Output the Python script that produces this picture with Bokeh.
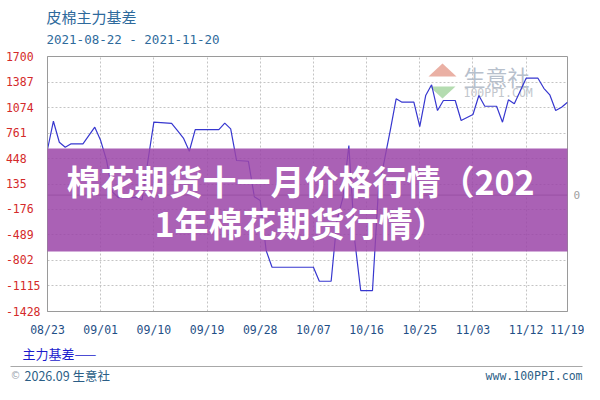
import datetime as dt
from bokeh.plotting import figure
from bokeh.layouts import column
from bokeh.models import (Range1d, FixedTicker, DatetimeTickFormatter, LinearAxis,
                          Span, Label, BoxAnnotation, PolyAnnotation, ColumnDataSource)
from bokeh.embed import file_html
from bokeh.resources import INLINE

# ---------------- data ----------------
dates = ["2021-08-23", "2021-08-24", "2021-08-25", "2021-08-26", "2021-08-27", "2021-08-29",
         "2021-08-31", "2021-09-01", "2021-09-02", "2021-09-03", "2021-09-04", "2021-09-07",
         "2021-09-08", "2021-09-09", "2021-09-10", "2021-09-13", "2021-09-14", "2021-09-15",
         "2021-09-16", "2021-09-17", "2021-09-21", "2021-09-22", "2021-09-23", "2021-09-24",
         "2021-09-26", "2021-09-27", "2021-09-28", "2021-09-29", "2021-09-30", "2021-10-07",
         "2021-10-08", "2021-10-10", "2021-10-11", "2021-10-12", "2021-10-13", "2021-10-14",
         "2021-10-15", "2021-10-17", "2021-10-18", "2021-10-19", "2021-10-20", "2021-10-21",
         "2021-10-22", "2021-10-24", "2021-10-25", "2021-10-26", "2021-10-27", "2021-10-28",
         "2021-10-29", "2021-10-31", "2021-11-01", "2021-11-03", "2021-11-04", "2021-11-05",
         "2021-11-07", "2021-11-08", "2021-11-09", "2021-11-10", "2021-11-12", "2021-11-14",
         "2021-11-15", "2021-11-16", "2021-11-17", "2021-11-18", "2021-11-19"]
basis = [560, 906, 648, 587, 629, 629,
         833, 669, 424, 36, -30, -30,
         -60, 424, 894, 880, 790, 700,
         538, 804, 804, 882, 813, 424,
         415, -20, -67, -680, -885, -885,
         -1057, -1057, -300, -30, 608, -560,
         -1171, -1171, 56, 424, 792, 1181,
         1140, 1140, 841, 1221, 1353, 1037,
         1160, 1160, 915, 988, 1221, 1090,
         1090, 894, 1169, 1120, 1434, 1434,
         1310, 1230, 1037, 1078, 1139]
y_ticks = [1700, 1387, 1074, 761, 448, 135, -176, -489, -802, -1115, -1428]
x_tick_dates = ["2021-08-23", "2021-09-01", "2021-09-10", "2021-09-19", "2021-09-28",
                "2021-10-07", "2021-10-16", "2021-10-25", "2021-11-03", "2021-11-12",
                "2021-11-19"]
x_start, x_end = "2021-08-23", "2021-11-19"
title_text = "皮棉主力基差"
range_text = "2021-08-22 - 2021-11-20"
legend_text = "主力基差——"
footer_mark = "©"
footer_left = "2026.09 生意社"
footer_right = "www.100PPI.com"
watermark_cn = "生意社"
watermark_en = "100PPI.COM"
banner_lines = ["棉花期货十一月价格行情（202", "1年棉花期货行情）"]

# ---------------- layout (pixels) ----------------
W = 584
HEAD_H = 47
FL, FR, FT, FB = 47, 17, 9, 30
FRAME_H = 255
MAIN_H = FT + FRAME_H + FB          # 294
FOOT_H = 384 - HEAD_H - MAIN_H      # 43
MAIN_TOP = HEAD_H
FOOT_TOP = HEAD_H + MAIN_H
FRAME_BOTTOM = MAIN_TOP + FT + FRAME_H

EPOCH = dt.datetime(1970, 1, 1)


def ms(s):
    return (dt.datetime.strptime(s, "%Y-%m-%d") - EPOCH).total_seconds() * 1000.0


def no_frame_align(f):
    if "frame_align" in f.properties():
        f.frame_align = False


def blank_fig(h):
    f = figure(width=W, height=h, output_backend="svg", toolbar_location=None, title=None,
               x_axis_location=None, y_axis_location=None, min_border=0,
               x_range=Range1d(0, 1), y_range=Range1d(0, 1))
    f.outline_line_color = None
    f.xgrid.visible = False
    f.ygrid.visible = False
    f.background_fill_color = "white"
    f.border_fill_color = "white"
    no_frame_align(f)
    return f


# ---------------- header ----------------
head = blank_fig(HEAD_H)
head.add_layout(Label(x=46, y=HEAD_H - 16, x_units="screen", y_units="screen", text=title_text,
                      text_font="Noto Sans CJK SC", text_font_size="15px", text_color="#2e6a9c",
                      text_baseline="middle"))
head.add_layout(Label(x=46, y=HEAD_H - 39, x_units="screen", y_units="screen", text=range_text,
                      text_font="DejaVu Sans Mono", text_font_size="12.5px", text_color="#2e6a9c",
                      text_baseline="middle"))

# ---------------- main chart ----------------
src = ColumnDataSource(dict(x=[dt.datetime.strptime(d, "%Y-%m-%d") for d in dates], y=basis))

p = figure(width=W, height=MAIN_H, x_axis_type="datetime",
           x_range=Range1d(ms(x_start), ms(x_end)),
           y_range=Range1d(min(y_ticks), max(y_ticks)),
           output_backend="svg", toolbar_location=None, title=None,
           min_border_left=FL, min_border_right=FR, min_border_top=FT, min_border_bottom=FB)
no_frame_align(p)
p.background_fill_color = "white"
p.border_fill_color = "white"
p.outline_line_color = "#9a9a9a"

for g in (p.xgrid[0], p.ygrid[0]):
    g.grid_line_color = "#c4c4c4"
    g.grid_line_dash = "2 2"

xa = p.xaxis[0]
xa.ticker = FixedTicker(ticks=[ms(d) for d in x_tick_dates])
fmt = "%m/%d"
xa.formatter = DatetimeTickFormatter(days=fmt, months=fmt, years=fmt, hours=fmt,
                                     hourmin=fmt, minutes=fmt, minsec=fmt, seconds=fmt,
                                     milliseconds=fmt, microseconds=fmt)
xa.major_label_text_font = "DejaVu Sans Mono"
xa.major_label_text_font_size = "11.5px"
xa.major_label_text_color = "#1f4f86"
xa.major_tick_out = 0
xa.major_tick_in = 0
xa.minor_tick_out = 0
xa.minor_tick_in = 0
xa.axis_line_color = "#9a9a9a"
xa.major_label_standoff = 11

ya = p.yaxis[0]
ya.ticker = FixedTicker(ticks=y_ticks)
ya.major_label_overrides = {t: str(t) + "\u00a0" * (5 - len(str(t))) for t in y_ticks}
ya.major_label_text_font = "DejaVu Sans Mono"
ya.major_label_text_font_size = "11.5px"
ya.major_label_text_color = "#d42a2a"
ya.major_tick_out = 0
ya.major_tick_in = 0
ya.minor_tick_out = 0
ya.minor_tick_in = 0
ya.axis_line_color = "#9a9a9a"
ya.major_label_standoff = 7

ra = LinearAxis(ticker=FixedTicker(ticks=[0]))
ra.axis_line_color = None
ra.major_tick_out = 0
ra.major_tick_in = 0
ra.minor_tick_out = 0
ra.minor_tick_in = 0
ra.major_label_text_color = "#a0a0a0"
ra.major_label_text_font = "DejaVu Sans Mono"
ra.major_label_text_font_size = "11px"
ra.major_label_standoff = 6
p.add_layout(ra, "right")

p.add_layout(Span(location=0, dimension="width", line_color="#8a8a8a", line_width=1))


def fx(px):   # page x -> frame-relative screen x
    return px - FL


def fy(py):   # page y -> frame-relative screen y (up)
    return FRAME_BOTTOM - py


# watermark logo + text (faint, beneath the series)
p.add_layout(PolyAnnotation(xs=[fx(428), fx(442), fx(456)], ys=[fy(76), fy(63), fy(76)],
                            xs_units="screen", ys_units="screen", fill_color="#eab0a4",
                            fill_alpha=1, line_color=None, level="underlay"))
p.add_layout(PolyAnnotation(xs=[fx(429), fx(455), fx(442)], ys=[fy(86), fy(86), fy(98)],
                            xs_units="screen", ys_units="screen", fill_color="#b4dcb0",
                            fill_alpha=1, line_color=None, level="underlay"))
p.add_layout(Label(x=fx(463), y=fy(75), x_units="screen", y_units="screen", text=watermark_cn,
                   text_font="Noto Sans CJK SC", text_font_size="22px", text_color="#b7c0cc",
                   text_baseline="middle", level="underlay"))
p.add_layout(Label(x=fx(463), y=fy(92), x_units="screen", y_units="screen", text=watermark_en,
                   text_font="DejaVu Sans Mono", text_font_size="11.5px", text_color="#c2c6cc",
                   text_baseline="middle", level="underlay"))

p.line(x="x", y="y", source=src, line_color="#3737cf", line_width=1.2)

p.add_layout(BoxAnnotation(left=fx(-50), right=fx(650), top=fy(148), bottom=fy(251),
                           left_units="screen", right_units="screen", top_units="screen",
                           bottom_units="screen", fill_color="#9b45a8", fill_alpha=0.85,
                           line_color=None))
for ty, line in zip((180, 222), banner_lines):
    p.add_layout(Label(x=fx(300), y=fy(ty), x_units="screen", y_units="screen", text=line,
                       text_font="Noto Sans CJK SC", text_font_size="34px",
                       text_font_style="bold", text_color="white",
                       text_align="center", text_baseline="middle"))

# ---------------- footer ----------------
foot = blank_fig(FOOT_H)


def gy(py):
    return FOOT_TOP + FOOT_H - py


foot.add_layout(Label(x=22, y=gy(353), x_units="screen", y_units="screen", text=legend_text,
                      text_font="Noto Sans CJK SC", text_font_size="13px", text_color="#1b1bcc",
                      text_baseline="middle"))
foot.add_layout(BoxAnnotation(left=10, right=W - 2, top=gy(365.5), bottom=gy(366.5),
                              left_units="screen", right_units="screen", top_units="screen",
                              bottom_units="screen", fill_color="#a8a8a8", fill_alpha=1,
                              line_color=None))
foot.add_layout(Label(x=10, y=gy(375), x_units="screen", y_units="screen", text=footer_mark,
                      text_font="DejaVu Sans", text_font_size="10px", text_color="#9aa4ae",
                      text_baseline="middle"))
foot.add_layout(Label(x=24, y=gy(375), x_units="screen", y_units="screen", text=footer_left,
                      text_font="Noto Sans CJK SC", text_font_size="12.5px", text_color="#2b5e86",
                      text_baseline="middle"))
foot.add_layout(Label(x=W - 2, y=gy(375), x_units="screen", y_units="screen", text=footer_right,
                      text_font="DejaVu Sans Mono", text_font_size="11.5px", text_color="#2b5e86",
                      text_align="right", text_baseline="middle"))

layout = column(head, p, foot, spacing=0)
open("out.html", "w").write(file_html(layout, INLINE))
